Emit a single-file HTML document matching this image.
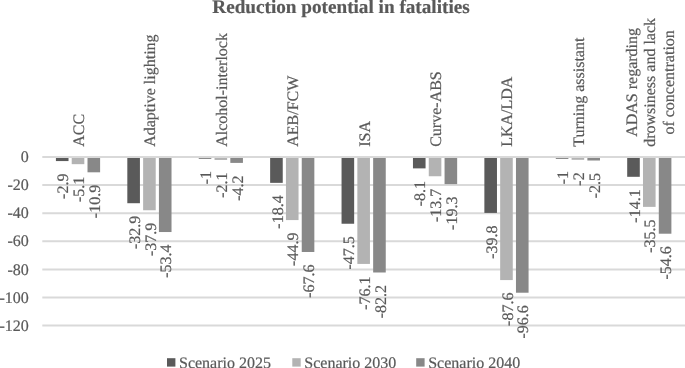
<!DOCTYPE html>
<html><head><meta charset="utf-8"><style>
html,body{margin:0;padding:0;background:#fff;width:685px;height:368px;overflow:hidden}
.t{font-family:"Liberation Serif",serif;font-size:16px;fill:#595959;stroke:#595959;stroke-width:0.2px;text-rendering:geometricPrecision}
</style></head><body>
<svg width="685" height="368" viewBox="0 0 685 368" style="display:block;will-change:transform">
<rect width="685" height="368" fill="#fff"/>
<text x="28.8" y="162.05" text-anchor="end" class="t">0</text>
<line x1="42.3" x2="685.0" y1="185.10" y2="185.10" stroke="#d9d9d9" stroke-width="2.0"/>
<text x="28.8" y="190.30" text-anchor="end" class="t">-20</text>
<line x1="42.3" x2="685.0" y1="213.20" y2="213.20" stroke="#d9d9d9" stroke-width="2.0"/>
<text x="28.8" y="218.35" text-anchor="end" class="t">-40</text>
<line x1="42.3" x2="685.0" y1="241.30" y2="241.30" stroke="#d9d9d9" stroke-width="2.0"/>
<text x="28.8" y="246.40" text-anchor="end" class="t">-60</text>
<line x1="42.3" x2="685.0" y1="269.40" y2="269.40" stroke="#d9d9d9" stroke-width="2.0"/>
<text x="28.8" y="274.50" text-anchor="end" class="t">-80</text>
<line x1="42.3" x2="685.0" y1="297.50" y2="297.50" stroke="#d9d9d9" stroke-width="2.0"/>
<text x="28.8" y="302.65" text-anchor="end" class="t">-100</text>
<line x1="42.3" x2="685.0" y1="325.60" y2="325.60" stroke="#d9d9d9" stroke-width="2.0"/>
<text x="28.8" y="331.10" text-anchor="end" class="t">-120</text>
<rect x="55.91" y="157.00" width="12.60" height="4.07" fill="#5a5a5a"/>
<text transform="translate(68.41,173.57) rotate(-90)" text-anchor="end" class="t">-2.9</text>
<rect x="71.71" y="157.00" width="12.60" height="7.17" fill="#b3b3b3"/>
<text transform="translate(84.21,176.67) rotate(-90)" text-anchor="end" class="t">-5.1</text>
<rect x="87.51" y="157.00" width="12.60" height="15.31" fill="#888888"/>
<text transform="translate(100.01,184.81) rotate(-90)" text-anchor="end" class="t">-10.9</text>
<text transform="translate(84.01,130.35) rotate(-90)" text-anchor="middle" class="t">ACC</text>
<rect x="127.32" y="157.00" width="12.60" height="46.22" fill="#5a5a5a"/>
<text transform="translate(139.82,215.72) rotate(-90)" text-anchor="end" class="t">-32.9</text>
<rect x="143.12" y="157.00" width="12.60" height="53.25" fill="#b3b3b3"/>
<text transform="translate(155.62,222.75) rotate(-90)" text-anchor="end" class="t">-37.9</text>
<rect x="158.92" y="157.00" width="12.60" height="75.03" fill="#888888"/>
<text transform="translate(171.42,244.53) rotate(-90)" text-anchor="end" class="t">-53.4</text>
<text transform="translate(155.42,90.59) rotate(-90)" text-anchor="middle" class="t">Adaptive lighting</text>
<rect x="198.73" y="157.00" width="12.60" height="1.70" fill="#5a5a5a"/>
<text transform="translate(211.23,170.91) rotate(-90)" text-anchor="end" class="t">-1</text>
<rect x="214.53" y="157.00" width="12.60" height="2.95" fill="#b3b3b3"/>
<text transform="translate(227.03,172.45) rotate(-90)" text-anchor="end" class="t">-2.1</text>
<rect x="230.33" y="157.00" width="12.60" height="5.90" fill="#888888"/>
<text transform="translate(242.83,175.40) rotate(-90)" text-anchor="end" class="t">-4.2</text>
<text transform="translate(226.83,89.93) rotate(-90)" text-anchor="middle" class="t">Alcohol-interlock</text>
<rect x="270.14" y="157.00" width="12.60" height="25.85" fill="#5a5a5a"/>
<text transform="translate(282.64,195.35) rotate(-90)" text-anchor="end" class="t">-18.4</text>
<rect x="285.94" y="157.00" width="12.60" height="63.08" fill="#b3b3b3"/>
<text transform="translate(298.44,232.58) rotate(-90)" text-anchor="end" class="t">-44.9</text>
<rect x="301.74" y="157.00" width="12.60" height="94.98" fill="#888888"/>
<text transform="translate(314.24,264.48) rotate(-90)" text-anchor="end" class="t">-67.6</text>
<text transform="translate(298.24,111.24) rotate(-90)" text-anchor="middle" class="t">AEB/FCW</text>
<rect x="341.55" y="157.00" width="12.60" height="66.74" fill="#5a5a5a"/>
<text transform="translate(354.05,236.24) rotate(-90)" text-anchor="end" class="t">-47.5</text>
<rect x="357.35" y="157.00" width="12.60" height="106.92" fill="#b3b3b3"/>
<text transform="translate(369.85,276.42) rotate(-90)" text-anchor="end" class="t">-76.1</text>
<rect x="373.15" y="157.00" width="12.60" height="115.49" fill="#888888"/>
<text transform="translate(385.65,284.99) rotate(-90)" text-anchor="end" class="t">-82.2</text>
<text transform="translate(369.65,133.91) rotate(-90)" text-anchor="middle" class="t">ISA</text>
<rect x="412.96" y="157.00" width="12.60" height="11.38" fill="#5a5a5a"/>
<text transform="translate(425.46,180.88) rotate(-90)" text-anchor="end" class="t">-8.1</text>
<rect x="428.76" y="157.00" width="12.60" height="19.25" fill="#b3b3b3"/>
<text transform="translate(441.26,188.75) rotate(-90)" text-anchor="end" class="t">-13.7</text>
<rect x="444.56" y="157.00" width="12.60" height="27.12" fill="#888888"/>
<text transform="translate(457.06,196.62) rotate(-90)" text-anchor="end" class="t">-19.3</text>
<text transform="translate(441.06,109.02) rotate(-90)" text-anchor="middle" class="t">Curve-ABS</text>
<rect x="484.37" y="157.00" width="12.60" height="55.92" fill="#5a5a5a"/>
<text transform="translate(496.87,225.42) rotate(-90)" text-anchor="end" class="t">-39.8</text>
<rect x="500.17" y="157.00" width="12.60" height="123.08" fill="#b3b3b3"/>
<text transform="translate(512.67,292.58) rotate(-90)" text-anchor="end" class="t">-87.6</text>
<rect x="515.97" y="157.00" width="12.60" height="135.72" fill="#888888"/>
<text transform="translate(528.47,305.22) rotate(-90)" text-anchor="end" class="t">-96.6</text>
<text transform="translate(512.47,111.69) rotate(-90)" text-anchor="middle" class="t">LKA/LDA</text>
<rect x="555.78" y="157.00" width="12.60" height="1.70" fill="#5a5a5a"/>
<text transform="translate(568.28,170.91) rotate(-90)" text-anchor="end" class="t">-1</text>
<rect x="571.58" y="157.00" width="12.60" height="2.81" fill="#b3b3b3"/>
<text transform="translate(584.08,172.31) rotate(-90)" text-anchor="end" class="t">-2</text>
<rect x="587.38" y="157.00" width="12.60" height="3.51" fill="#888888"/>
<text transform="translate(599.88,173.01) rotate(-90)" text-anchor="end" class="t">-2.5</text>
<text transform="translate(583.88,92.20) rotate(-90)" text-anchor="middle" class="t">Turning assistant</text>
<rect x="627.19" y="157.00" width="12.60" height="19.81" fill="#5a5a5a"/>
<text transform="translate(639.69,189.31) rotate(-90)" text-anchor="end" class="t">-14.1</text>
<rect x="642.99" y="157.00" width="12.60" height="49.88" fill="#b3b3b3"/>
<text transform="translate(655.49,219.38) rotate(-90)" text-anchor="end" class="t">-35.5</text>
<rect x="658.79" y="157.00" width="12.60" height="76.71" fill="#888888"/>
<text transform="translate(671.29,246.21) rotate(-90)" text-anchor="end" class="t">-54.6</text>
<text transform="translate(636.99,82.37) rotate(-90)" text-anchor="middle" class="t">ADAS regarding</text>
<text transform="translate(655.29,82.37) rotate(-90)" text-anchor="middle" class="t">drowsiness and lack</text>
<text transform="translate(673.59,82.37) rotate(-90)" text-anchor="middle" class="t">of concentration</text>
<line x1="42.3" x2="685.0" y1="157.00" y2="157.00" stroke="#d9d9d9" stroke-width="2.0"/>
<text x="341.0" y="13.1" text-anchor="middle" class="t" style="font-weight:bold;font-size:19.2px">Reduction potential in fatalities</text>
<rect x="167.0" y="358.20" width="8.4" height="8.4" fill="#5a5a5a"/>
<text x="179.00" y="367.6" class="t">Scenario 2025</text>
<rect x="292.3" y="358.20" width="8.4" height="8.4" fill="#b3b3b3"/>
<text x="304.30" y="367.6" class="t">Scenario 2030</text>
<rect x="416.2" y="358.20" width="8.4" height="8.4" fill="#888888"/>
<text x="428.20" y="367.6" class="t">Scenario 2040</text>
</svg>
</body></html>
